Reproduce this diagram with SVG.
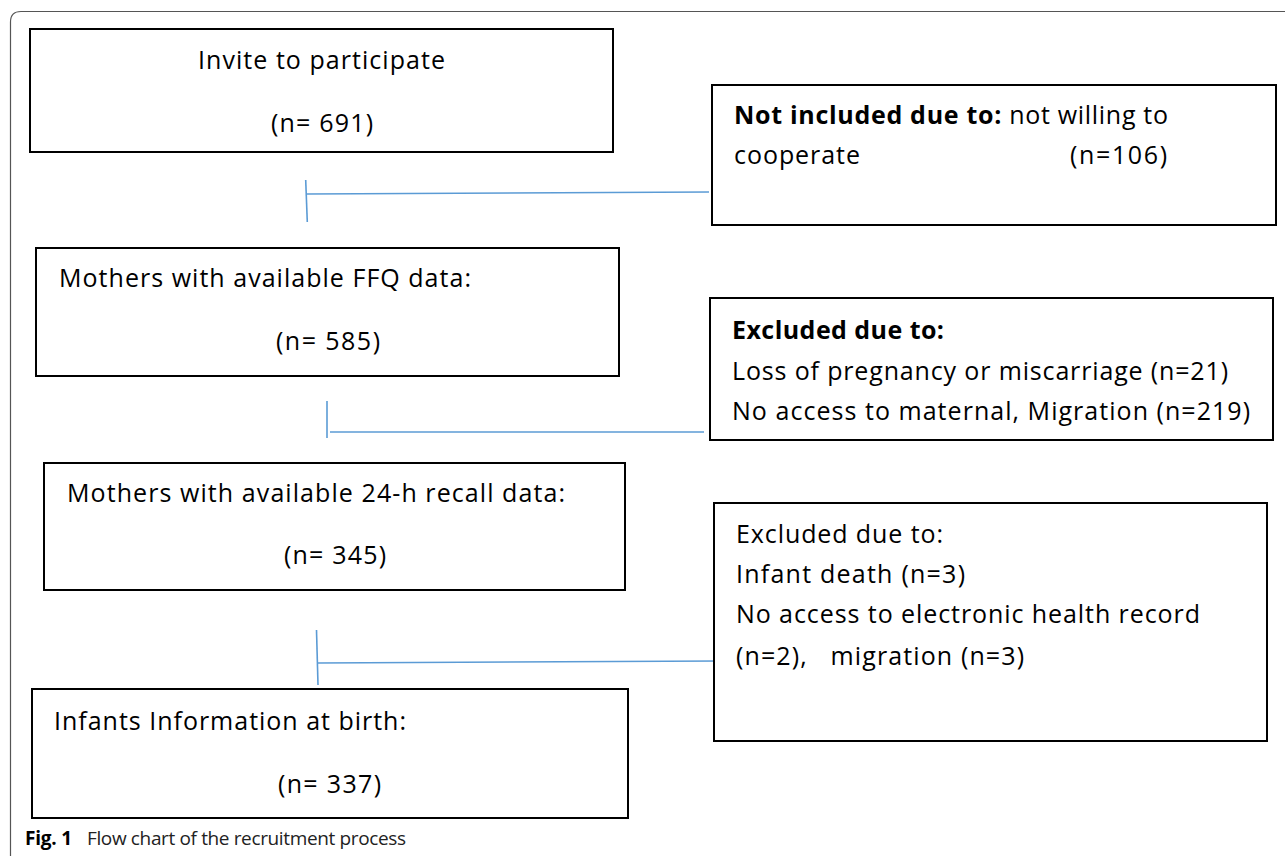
<svg xmlns="http://www.w3.org/2000/svg" width="1285" height="858" viewBox="0 0 1285 858">
<style>
.box{fill:#fff;stroke:#000;stroke-width:2}
.t{font-family:"Open Sans","Noto Sans",sans-serif;font-size:25px;fill:#000}
.b{font-weight:bold}
.c{stroke:#5B9BD5;stroke-width:1.6;fill:none}
.cap{font-family:"Open Sans","Noto Sans",sans-serif;font-size:19px;fill:#222}
</style>
<rect width="1285" height="858" fill="#fff"/>
<path d="M10.5 856 V22 Q10.5 11.5 21 11.5 H1285" fill="none" stroke="#555" stroke-width="1.2"/>
<g id="connectors">
<line class="c" x1="305.7" y1="180" x2="307.3" y2="222"/>
<line class="c" x1="307" y1="194" x2="709" y2="192"/>
<line class="c" x1="327" y1="401" x2="327" y2="438"/>
<line class="c" x1="330" y1="432" x2="704" y2="432"/>
<line class="c" x1="316.5" y1="630" x2="318" y2="685"/>
<line class="c" x1="318" y1="663" x2="719" y2="661"/>
</g>
<g id="n1">
<rect class="box" x="30" y="29" width="583" height="123"/>
<text class="t" x="198" y="69" textLength="247">Invite to participate</text>
<text class="t" x="271" y="132" textLength="102">(n= 691)</text>
</g>
<g id="n2">
<rect class="box" x="712" y="85" width="564" height="140"/>
<text class="t" x="734" y="124" textLength="434"><tspan class="b">Not included due to:</tspan> not willing to</text>
<text class="t" x="734" y="164" textLength="126">cooperate</text>
<text class="t" x="1070" y="164" textLength="97">(n=106)</text>
</g>
<g id="n3">
<rect class="box" x="36" y="248" width="583" height="128"/>
<text class="t" x="59" y="287" textLength="412">Mothers with available FFQ data:</text>
<text class="t" x="276" y="350" textLength="104">(n= 585)</text>
</g>
<g id="n4">
<rect class="box" x="710" y="298" width="563" height="142"/>
<text class="t b" x="732" y="339" textLength="212">Excluded due to:</text>
<text class="t" x="732" y="380" textLength="496">Loss of pregnancy or miscarriage (n=21)</text>
<text class="t" x="732" y="420" textLength="518">No access to maternal, Migration (n=219)</text>
</g>
<g id="n5">
<rect class="box" x="44" y="463" width="581" height="127"/>
<text class="t" x="67" y="502" textLength="498">Mothers with available 24-h recall data:</text>
<text class="t" x="284" y="564" textLength="102">(n= 345)</text>
</g>
<g id="n6">
<rect class="box" x="714" y="503" width="553" height="238"/>
<text class="t" x="736" y="543" textLength="207">Excluded due to:</text>
<text class="t" x="736" y="583" textLength="229">Infant death (n=3)</text>
<text class="t" x="736" y="623" textLength="464">No access to electronic health record</text>
<text class="t" x="736" y="665" textLength="288" xml:space="preserve">(n=2),   migration (n=3)</text>
</g>
<g id="n7">
<rect class="box" x="32" y="689" width="596" height="129"/>
<text class="t" x="54" y="730" textLength="352">Infants Information at birth:</text>
<text class="t" x="278" y="793" textLength="103">(n= 337)</text>
</g>
<g id="caption">
<text class="cap" x="25" y="845"><tspan font-weight="bold" fill="#000" textLength="47">Fig. 1</tspan><tspan x="87" textLength="319">Flow chart of the recruitment process</tspan></text>
</g>
</svg>
